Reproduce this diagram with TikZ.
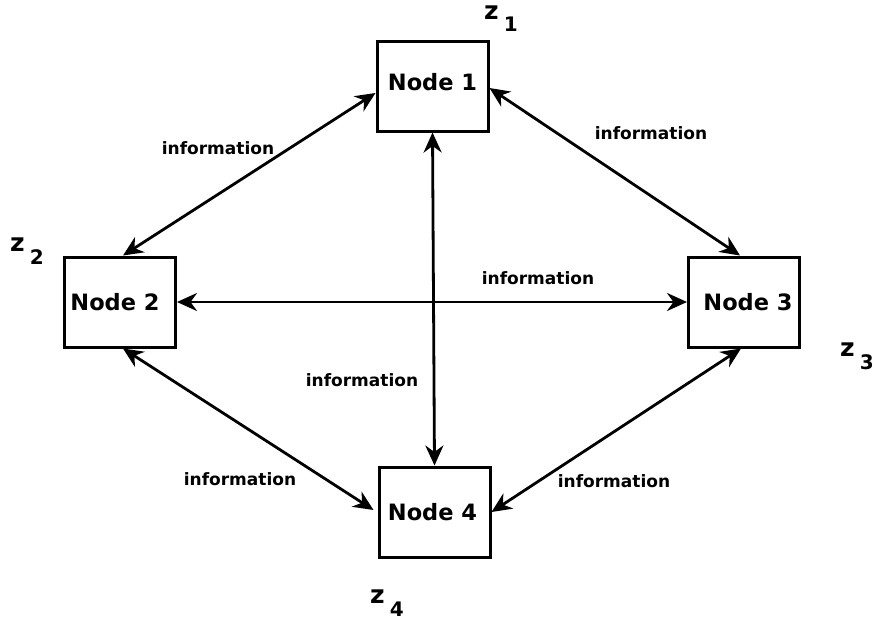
\documentclass[tikz,border=0pt]{standalone}
\usepackage{fontspec}
\setmainfont{DejaVu Sans}
\usetikzlibrary{arrows.meta}
\tikzset{
  box/.style={draw=black, line width=3pt, minimum width=111pt, minimum height=90pt, inner sep=0pt},
  boxtext/.style={font=\bfseries\fontsize{22.5}{22.5}\selectfont},
  info/.style={font=\bfseries\fontsize{17}{17}\selectfont, inner sep=0pt},
  zlab/.style={font=\bfseries\fontsize{25}{25}\selectfont, inner sep=0pt, anchor=base west},
  link/.style={line width=2.8pt, {Stealth[length=20pt,width=18pt]}-{Stealth[length=20pt,width=18pt]}}
}
\newcommand{\zsub}[1]{z\hspace{5pt}\raisebox{-13pt}{\fontsize{20}{20}\selectfont #1}}
\begin{document}
\begin{tikzpicture}[x=1pt,y=1pt]
\useasboundingbox (0,0) rectangle (877,-621);

% the four nodes
\node[box, label={[boxtext,yshift=4pt]center:Node 1}] (n1) at (432.5,-86) {};
\node[box, label={[boxtext,xshift=-5pt]center:Node 2}] (n2) at (120,-302) {};
\node[box, label={[boxtext,xshift=4pt]center:Node 3}] (n3) at (744,-302) {};
\node[box, label={[boxtext,xshift=-2pt]center:Node 4}] (n4) at (434.5,-512) {};

% state labels
\node[zlab] (z1) at (484,-19) {\zsub{1}};
\node[zlab] (z2) at (10,-251) {\zsub{2}};
\node[zlab] (z3) at (840,-356) {\zsub{3}};
\node[zlab] (z4) at (370,-603) {\zsub{4}};

% information exchange links
\draw[link] ([yshift=-7pt]n1.west) -- ([xshift=3pt]n2.north);
\draw[link] ([yshift=-2pt]n1.east) -- ([xshift=-4pt]n3.north);
\draw[link] (n1.south) -- (n4.north);
\draw[link] (n2.east) -- (n3.west);
\draw[link] ([xshift=3pt]n2.south) -- ([xshift=-4pt,yshift=2pt]n4.west);
\draw[link] ([xshift=-3pt]n3.south) -- (n4.east);

% link labels
\node[info] (i12) at (218,-148) {information};
\node[info] (i13) at (651,-133) {information};
\node[info] (i23) at (538,-278) {information};
\node[info] (i14) at (362,-380) {information};
\node[info] (i24) at (240,-479) {information};
\node[info] (i34) at (614,-481) {information};
\end{tikzpicture}
\end{document}
